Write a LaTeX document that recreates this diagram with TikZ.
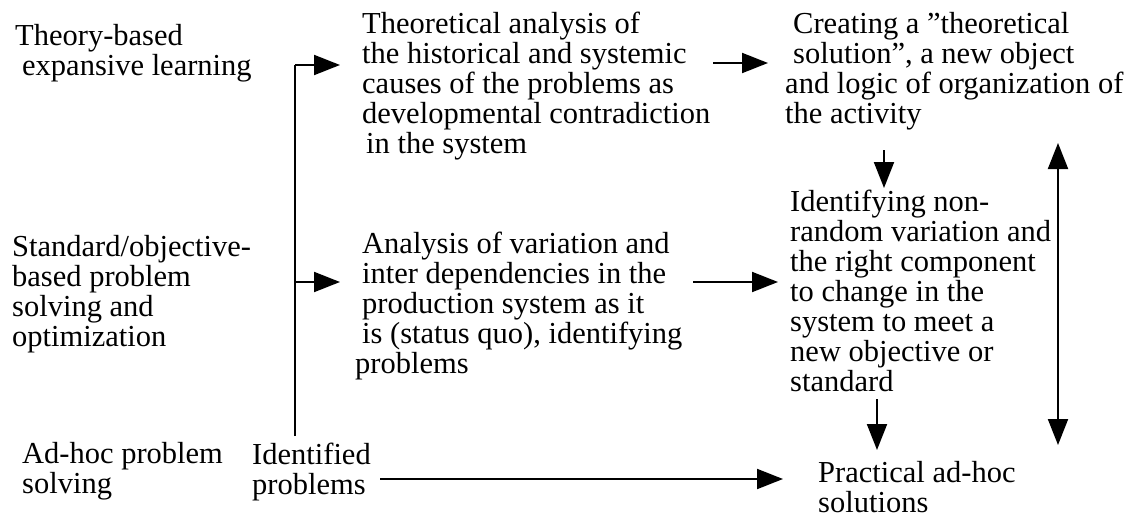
\documentclass[tikz,border=0pt]{standalone}
\usepackage{fontspec}
\setmainfont{Liberation Serif}
\usetikzlibrary{arrows.meta}
\begin{document}
\begin{tikzpicture}[x=1pt,y=-1pt,
  txt/.style={anchor=base west, align=left, inner sep=0pt, font=\fontsize{30.5}{30}\selectfont},
  arr/.style={line width=2pt, -{Triangle[length=26pt,width=20pt]}},
  darr/.style={line width=2pt, {Triangle[length=26pt,width=20pt]}-{Triangle[length=26pt,width=20pt]}},
  ln/.style={line width=2pt}]
\useasboundingbox (0,0) rectangle (1127,519);
% left column (anchor at baseline of the last line)
\node[txt] (theory) at (15,75) {Theory-based\\\hspace*{7pt}expansive learning};
\node[txt] (standard) at (12,346) {Standard/objective-\\based problem\\solving and\\optimization};
\node[txt] (adhoc) at (22,493) {Ad-hoc problem\\solving};
\node[txt] (ident) at (252,494) {Identified\\problems};
% middle column
\node[txt] (theor) at (362,153) {Theoretical analysis of\\the historical and systemic\\causes of the problems as\\developmental contradiction\\\hspace*{4pt}in the system};
\node[txt] (anal) at (355,373) {\hspace*{7pt}Analysis of variation and\\\hspace*{7pt}inter dependencies in the\\\hspace*{7pt}production system as it\\\hspace*{7pt}is (status quo), identifying\\problems};
% right column
\node[txt] (creat) at (785,123) {\hspace*{8pt}Creating a ”theoretical\\\hspace*{8pt}solution”, a new object\\and logic of organization of\\the activity};
\node[txt] (ident2) at (790,391) {Identifying non-\\random variation and\\the right component\\to change in the\\system to meet a\\new objective or\\standard};
\node[txt] (pract) at (818,512) {Practical ad-hoc\\solutions};
% connector coordinates
\coordinate (trTop) at (295,65);
\coordinate (trMid) at (295,282);
\coordinate (trBot) at (295,436);
\coordinate (tipTheor) at (340,65);
\coordinate (tipAnal) at (340,282);
\coordinate (a1s) at (713,63);
\coordinate (a1e) at (768,63);
\coordinate (a2s) at (693,282);
\coordinate (a2e) at (778,282);
\coordinate (d1s) at (884,150);
\coordinate (d1e) at (884,188);
\coordinate (d2s) at (877,399);
\coordinate (d2e) at (877,450);
\coordinate (bs) at (380,479);
\coordinate (be) at (783,479);
\coordinate (vt) at (1058,143);
\coordinate (vb) at (1058,445);
% connectors
\draw[ln] (trBot) -- (trTop);
\draw[arr] (trTop) -- (tipTheor);
\draw[arr] (trMid) -- (tipAnal);
\draw[arr] (a1s) -- (a1e);
\draw[arr] (a2s) -- (a2e);
\draw[arr] (d1s) -- (d1e);
\draw[arr] (d2s) -- (d2e);
\draw[arr] (bs) -- (be);
\draw[darr] (vt) -- (vb);
\end{tikzpicture}
\end{document}
